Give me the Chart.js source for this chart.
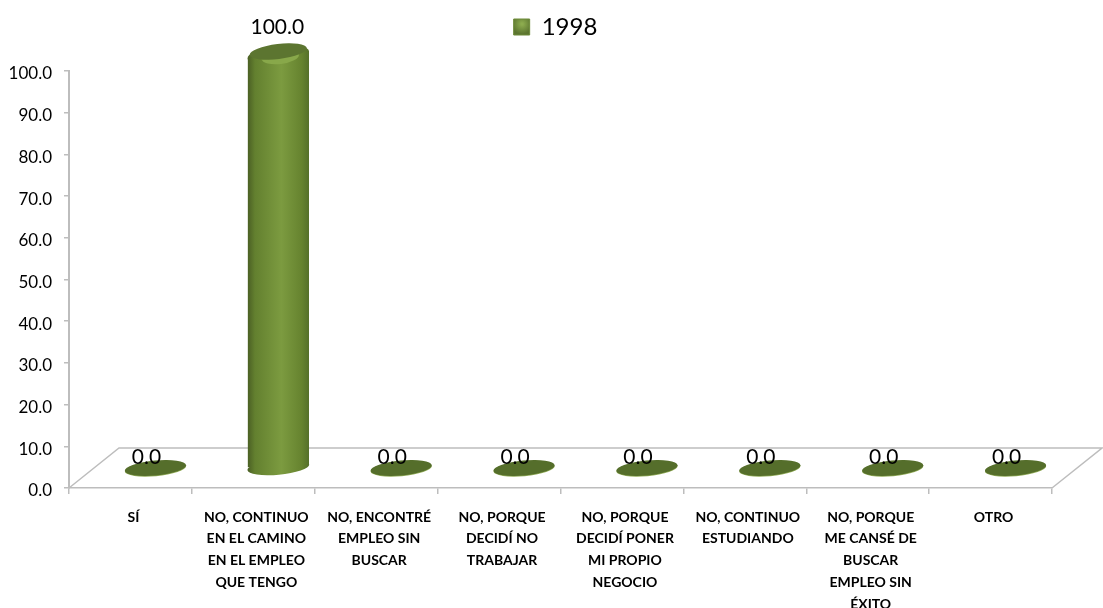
<!DOCTYPE html>
<html>
<head>
<meta charset="utf-8">
<script src="https://cdn.jsdelivr.net/npm/chart.js@4/dist/chart.umd.min.js"></script>
<style>
    html, body { margin: 0; padding: 0; background: #fff; }
    #wrap { width: 1103px; height: 608px; }
    canvas { filter: blur(0.5px); }
</style>
</head>
<body>
<div id="wrap"><canvas id="chart1998" width="1103" height="608"></canvas></div>
<script>
const categories = [
    ['SÍ'],
    ['NO, CONTINUO', 'EN EL CAMINO', 'EN EL EMPLEO', 'QUE TENGO'],
    ['NO, ENCONTRÉ', 'EMPLEO SIN', 'BUSCAR'],
    ['NO, PORQUE', 'DECIDÍ NO', 'TRABAJAR'],
    ['NO, PORQUE', 'DECIDÍ PONER', 'MI PROPIO', 'NEGOCIO'],
    ['NO, CONTINUO', 'ESTUDIANDO'],
    ['NO, PORQUE', 'ME CANSÉ DE', 'BUSCAR', 'EMPLEO SIN', 'ÉXITO'],
    ['OTRO']
];
const seriesName = '1998';
const values1998 = [0, 100, 0, 0, 0, 0, 0, 0];

const FONT = 'Lato, "Open Sans", sans-serif';
const GRID = '#bdbdbd';
const TEXT = '#000';
const DEPTH_X = 50, DEPTH_Y = 40;
const CAP_DROP = 4;
const TILT_TOP = -0.12, TILT_BASE = -0.09;

function barFill(ctx) {
    const chart = ctx.chart;
    const xs = chart.scales.x;
    if (ctx.dataIndex === undefined || !xs) return '#76933c';
    const half = xs.width / categories.length / 4;
    const cx = xs.getPixelForValue(ctx.dataIndex);
    if (!Number.isFinite(cx) || !Number.isFinite(half)) return '#76933c';
    const g = chart.ctx.createLinearGradient(cx - half, 0, cx + half, 0);
    g.addColorStop(0, '#4a5f24');
    g.addColorStop(0.12, '#63802f');
    g.addColorStop(0.55, '#7c9b40');
    g.addColorStop(0.88, '#66832f');
    g.addColorStop(1, '#55702a');
    return g;
}

// room for the legend above the plot, and move it a bit left
const legendSpacePlugin = {
    id: 'legendSpace',
    beforeInit(chart) {
        const fit = chart.legend.fit;
        chart.legend.fit = function () {
            fit.call(this);
            this.height = 71;
        };
    },
    afterLayout(chart) {
        chart.legend.left -= 5;
        chart.legend.right -= 5;
    }
};

// floor of the 3d plot, behind the bars
const floorPlugin = {
    id: 'floor',
    beforeDatasetsDraw(chart) {
        const { ctx, scales: { x, y } } = chart;
        const y0 = y.getPixelForValue(0);
        ctx.save();
        ctx.strokeStyle = GRID;
        ctx.lineWidth = 1.5;
        ctx.beginPath();
        ctx.moveTo(x.left, y0);
        ctx.lineTo(x.left + DEPTH_X, y0 - DEPTH_Y);
        ctx.lineTo(x.right + DEPTH_X, y0 - DEPTH_Y);
        ctx.lineTo(x.right, y0);
        ctx.stroke();
        ctx.restore();
    }
};

// bars sit halfway into the floor, the caps and value labels are added here
const cylinderPlugin = {
    id: 'cylinder',
    beforeDatasetDraw(chart, args) {
        const ctx = chart.ctx;
        ctx.save();
        ctx.translate(DEPTH_X / 2, -DEPTH_Y / 2);
        // cut the bar ends along the tilt of the ellipses
        ctx.beginPath();
        chart.getDatasetMeta(args.index).data.forEach(bar => {
            const rx = bar.width / 2;
            const top = bar.y + CAP_DROP;
            ctx.moveTo(bar.x - rx, top - rx * Math.sin(TILT_TOP));
            ctx.lineTo(bar.x + rx, top + rx * Math.sin(TILT_TOP));
            ctx.lineTo(bar.x + rx, bar.base + rx * Math.sin(TILT_BASE));
            ctx.lineTo(bar.x - rx, bar.base - rx * Math.sin(TILT_BASE));
            ctx.closePath();
        });
        ctx.save();
        ctx.clip();
    },
    afterDatasetDraw(chart, args) {
        const ctx = chart.ctx;
        const bars = chart.getDatasetMeta(args.index).data;
        const ry = 7.5;
        ctx.restore();
        bars.forEach((bar, i) => {
            const rx = bar.width / 2;
            ctx.beginPath();
            if (values1998[i] > 0) {
                const top = bar.y + CAP_DROP;
                ctx.fillStyle = barFill({ chart, dataIndex: i });
                ctx.ellipse(bar.x, bar.base, rx + 0.3, ry, TILT_BASE, 0, Math.PI * 2);
                ctx.fill();
                ctx.beginPath();
                ctx.fillStyle = barFill({ chart, dataIndex: i });
                ctx.ellipse(bar.x, top, rx + 0.3, ry + 2, TILT_TOP, 0, Math.PI * 2);
                ctx.fill();
                ctx.beginPath();
                ctx.fillStyle = '#88a84a';
                ctx.ellipse(bar.x + 2, top + 2, rx - 12, ry - 0.5, TILT_TOP, 0, Math.PI * 2);
                ctx.fill();
                ctx.beginPath();
                ctx.fillStyle = '#5c7530';
                ctx.ellipse(bar.x, top - 3.5, rx - 2, ry, TILT_TOP, 0, Math.PI * 2);
                ctx.fill();
            } else {
                ctx.fillStyle = '#93ad5a';
                ctx.ellipse(bar.x, bar.base + 0.7, rx, ry, TILT_BASE, 0, Math.PI * 2);
                ctx.fill();
                ctx.beginPath();
                ctx.fillStyle = '#556e2b';
                ctx.ellipse(bar.x, bar.base, rx, ry, TILT_BASE, 0, Math.PI * 2);
                ctx.fill();
            }
        });
        ctx.restore();

        ctx.save();
        ctx.fillStyle = TEXT;
        ctx.font = '21px ' + FONT;
        ctx.textAlign = 'center';
        ctx.textBaseline = 'middle';
        bars.forEach((bar, i) => {
            const zero = values1998[i] === 0;
            const px = bar.x + DEPTH_X / 2 + (zero ? -9 : -1);
            const py = bar.y - DEPTH_Y / 2 + (zero ? -11 : -24);
            ctx.fillText(values1998[i].toFixed(1), px, py);
        });
        ctx.restore();
    }
};

new Chart(document.getElementById('chart1998'), {
    type: 'bar',
    data: {
        labels: categories,
        datasets: [{
            label: seriesName,
            data: values1998,
            backgroundColor: barFill,
            borderWidth: 0,
            barPercentage: 0.5,
            categoryPercentage: 1
        }]
    },
    options: {
        responsive: false,
        animation: false,
        layout: { padding: { top: 0, right: 51, left: 0, bottom: 0 } },
        plugins: {
            tooltip: { enabled: false },
            legend: {
                position: 'top',
                fullSize: false,
                labels: {
                    color: TEXT,
                    font: { family: FONT, size: 24 },
                    boxWidth: 16,
                    boxHeight: 16,
                    padding: 15,
                    generateLabels(chart) {
                        const items = Chart.defaults.plugins.legend.labels.generateLabels(chart);
                        const g = chart.ctx.createRadialGradient(522, 24, 1, 522, 24, 10);
                        g.addColorStop(0, '#8cab4e');
                        g.addColorStop(1, '#5c7530');
                        items.forEach(item => {
                            item.fillStyle = g;
                            item.strokeStyle = '#6d8a38';
                            item.lineWidth = 1;
                        });
                        return items;
                    }
                }
            }
        },
        scales: {
            x: {
                afterFit(scale) { scale.height = 120; },
                grid: {
                    drawOnChartArea: false,
                    color: GRID,
                    tickLength: 6,
                    lineWidth: 1.5
                },
                border: { color: GRID, width: 1.5 },
                ticks: {
                    color: TEXT,
                    font: { family: FONT, size: 14, weight: 'bold', lineHeight: 1.57 },
                    maxRotation: 0,
                    autoSkip: false,
                    padding: 12,
                    labelOffset: 3
                }
            },
            y: {
                min: 0,
                max: 100,
                afterFit(scale) { scale.width = 69; },
                grid: {
                    drawOnChartArea: false,
                    color: GRID,
                    tickLength: 5,
                    lineWidth: 1.5
                },
                border: { color: GRID, width: 2 },
                ticks: {
                    stepSize: 10,
                    color: TEXT,
                    font: { family: FONT, size: 17 },
                    padding: 12,
                    labelOffset: 3,
                    callback: v => v.toFixed(1)
                }
            }
        }
    },
    plugins: [legendSpacePlugin, floorPlugin, cylinderPlugin]
});
</script>
</body>
</html>
